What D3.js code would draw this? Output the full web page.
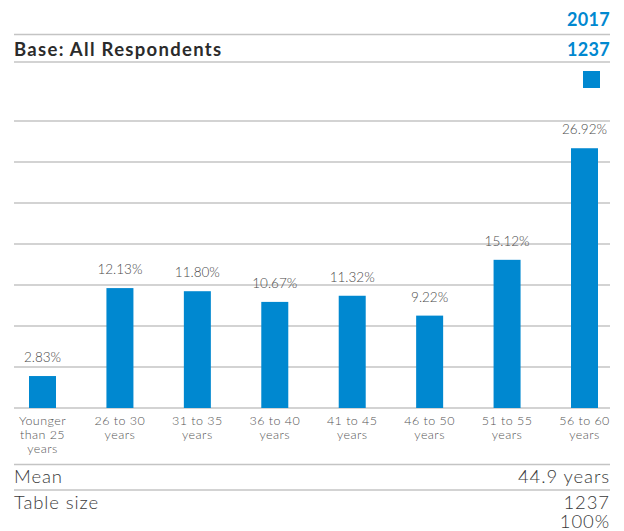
<!DOCTYPE html>
<html>
<head>
<meta charset="utf-8">
<script src="https://cdn.jsdelivr.net/npm/d3@7"></script>
<style>
  html, body { margin: 0; padding: 0; background: #fff; }
  svg { display: block; font-family: Lato, "Open Sans", sans-serif; }
</style>
</head>
<body>
<svg id="chart" width="624" height="531"></svg>
<script>
// ---- data ----
const categories = ["Younger than 25 years", "26 to 30 years", "31 to 35 years", "36 to 40 years",
                    "41 to 45 years", "46 to 50 years", "51 to 55 years", "56 to 60 years"];
const tickLabels = [["Younger", "than 25", "years"], ["26 to 30", "years"], ["31 to 35", "years"],
                    ["36 to 40", "years"], ["41 to 45", "years"], ["46 to 50", "years"],
                    ["51 to 55", "years"], ["56 to 60", "years"]];
const values2017 = [2.83, 12.13, 11.80, 10.67, 11.32, 9.22, 15.12, 26.92];
const seriesName = "2017";
const baseLabel = "Base: All Respondents";
const baseValue = "1237";
const footerRows = [["Mean", "44.9 years"], ["Table size", "1237"], ["", "100%"]];

// ---- layout ----
const svg = d3.select("#chart");
const left = 14, right = 610;
const blue = "#0088d0";
const gridColor = "#c4c4c4";

const x = d3.scalePoint().domain(categories).range([42.5, 584.5]);
const barW = 27;
const y = d3.scaleLinear().domain([-0.55, 29.8]).range([408, 121]);
const yBase = 408;

// header
svg.append("text").attr("x", right).attr("y", 26).attr("text-anchor", "end")
  .attr("font-size", 18).attr("font-weight", 700).attr("letter-spacing", 0.3).attr("fill", blue).text(seriesName);
svg.append("line").attr("x1", left).attr("x2", right).attr("y1", 34.5).attr("y2", 34.5)
  .attr("stroke", gridColor).attr("stroke-width", 1.5);
svg.append("text").attr("x", left).attr("y", 55.5).attr("font-size", 18.5).attr("font-weight", 700)
  .attr("letter-spacing", 1.3).attr("fill", "#2b2b2b").text(baseLabel);
svg.append("text").attr("x", right).attr("y", 55.5).attr("text-anchor", "end")
  .attr("font-size", 18).attr("font-weight", 700).attr("letter-spacing", 0.3).attr("fill", blue).text(baseValue);
svg.append("line").attr("x1", left).attr("x2", right).attr("y1", 62).attr("y2", 62)
  .attr("stroke", gridColor).attr("stroke-width", 1.5);

// legend swatch
svg.append("rect").attr("x", 583).attr("y", 71).attr("width", 17).attr("height", 17).attr("fill", blue);

// gridlines: 7 equal divisions of the plot height
const gridIdx = d3.scaleLinear().domain([0, 7]).range([121, 408]);
svg.append("g").selectAll("line").data(d3.range(8)).join("line")
  .attr("x1", left).attr("x2", right)
  .attr("y1", d => gridIdx(d)).attr("y2", d => gridIdx(d))
  .attr("stroke", gridColor).attr("stroke-width", 1.3);

// bars
svg.append("g").selectAll("rect").data(values2017).join("rect")
  .attr("x", (d, i) => x(categories[i]) - barW / 2)
  .attr("width", barW)
  .attr("y", d => y(d))
  .attr("height", d => yBase - y(d))
  .attr("fill", blue);

// value labels
svg.append("g").selectAll("text").data(values2017).join("text")
  .attr("x", (d, i) => x(categories[i]))
  .attr("y", d => y(d) - 14)
  .attr("text-anchor", "middle")
  .attr("font-size", 13.5).attr("font-weight", 300).attr("fill", "#4a4a4a")
  .text(d => d.toFixed(2) + "%");

// category labels
const cat = svg.append("g").selectAll("text").data(tickLabels).join("text")
  .attr("x", (d, i) => x(categories[i]))
  .attr("y", 424.5)
  .attr("text-anchor", "middle")
  .attr("font-size", 12.5).attr("font-weight", 300).attr("letter-spacing", 0.45).attr("fill", "#555");
cat.selectAll("tspan").data(d => d).join("tspan")
  .attr("x", function() { return d3.select(this.parentNode).attr("x"); })
  .attr("dy", (d, j) => j === 0 ? 0 : 14)
  .text(d => d);

// footer
svg.append("line").attr("x1", left).attr("x2", right).attr("y1", 464.5).attr("y2", 464.5)
  .attr("stroke", gridColor).attr("stroke-width", 1.5);
svg.append("line").attr("x1", left).attr("x2", right).attr("y1", 490).attr("y2", 490)
  .attr("stroke", gridColor).attr("stroke-width", 1.5);
const footY = [483, 508.5, 527.5];
footerRows.forEach((r, i) => {
  svg.append("text").attr("x", left).attr("y", footY[i]).attr("font-size", 18.5)
    .attr("font-weight", 300).attr("letter-spacing", 0.9).attr("fill", "#3a3a3a").text(r[0]);
  svg.append("text").attr("x", right).attr("y", footY[i]).attr("text-anchor", "end")
    .attr("font-size", 18.5).attr("font-weight", 300).attr("letter-spacing", 0.9).attr("fill", "#3a3a3a").text(r[1]);
});
</script>
</body>
</html>
